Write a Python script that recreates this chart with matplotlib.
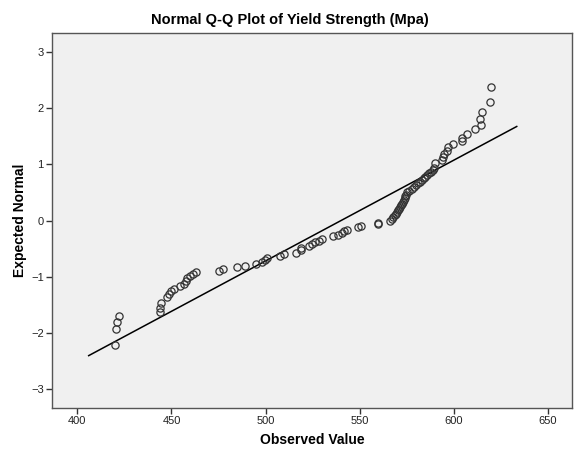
import matplotlib
matplotlib.use("Agg")
import matplotlib.pyplot as plt
import numpy as np

plt.rcParams['font.family'] = ['Liberation Sans', 'DejaVu Sans']

observed = [420.2, 420.7, 421.1, 422.1,
            443.9, 444.1, 444.5, 447.5, 448.5, 449.5, 451.5, 454.5, 456.5, 457.5,
            458.5, 460.0, 461.5, 463.0, 475.0, 477.5, 485.0, 489.0, 495.0, 498.0,
            499.5, 500.7, 507.6, 509.7, 516.1, 518.6, 518.8, 523.2, 524.5, 526.2,
            528.5, 529.8, 535.6, 538.5, 540.4, 541.8, 543.1, 549.3, 550.5, 559.6,
            559.8, 566.0, 567.0, 568.0, 569.0, 569.5, 570.0, 570.5, 571.0, 571.5,
            572.0, 572.5, 573.0, 573.5, 574.0, 574.3, 574.6, 575.0, 576.5, 578.0,
            579.0, 580.0, 581.0, 582.0, 583.0, 584.0, 585.0, 586.0, 587.0, 588.0,
            588.8, 589.5, 590.1, 593.6, 594.1, 595.0, 596.3, 596.8, 599.8, 604.4,
            604.4, 607.2, 611.5, 614.4, 614.0, 615.1, 619.3, 619.7]
expected = [-2.21, -1.93, -1.81, -1.69,
            -1.62, -1.55, -1.46, -1.36, -1.31, -1.26, -1.21, -1.17, -1.13, -1.08,
            -1.03, -0.99, -0.95, -0.92, -0.89, -0.86, -0.82, -0.80, -0.77, -0.74,
            -0.70, -0.66, -0.63, -0.59, -0.57, -0.53, -0.49, -0.46, -0.42, -0.38,
            -0.36, -0.32, -0.28, -0.26, -0.23, -0.19, -0.16, -0.12, -0.09, -0.06,
            -0.04, -0.01, 0.03, 0.06, 0.09, 0.12, 0.15, 0.18, 0.21, 0.24,
            0.27, 0.30, 0.33, 0.36, 0.40, 0.43, 0.46, 0.50, 0.53, 0.56,
            0.60, 0.63, 0.66, 0.69, 0.72, 0.75, 0.78, 0.81, 0.84, 0.87,
            0.90, 0.94, 1.02, 1.07, 1.12, 1.18, 1.24, 1.30, 1.35, 1.41,
            1.47, 1.54, 1.62, 1.70, 1.81, 1.93, 2.10, 2.37]

# Reference line (normal fit)
line_x = [406.0, 633.5]
line_y = [-2.40, 1.67]

x_ticks = [400, 450, 500, 550, 600, 650]
y_ticks = [-3, -2, -1, 0, 1, 2, 3]

fig = plt.figure(figsize=(5.79, 4.63), dpi=100)
ax = fig.add_axes([0.0898, 0.1188, 0.8982, 0.8099])
ax.set_facecolor('#f0f0f0')

ax.plot(line_x, line_y, color='black', lw=1.1, zorder=2)
ax.plot(observed, expected, linestyle='none', marker='o', markersize=5.2,
        markerfacecolor='none', markeredgecolor='#333333', markeredgewidth=0.9, zorder=3)

ax.set_xlim(386.5, 662.9)
ax.set_ylim(-3.33, 3.33)
ax.set_xticks(x_ticks)
ax.set_yticks(y_ticks)
ax.tick_params(axis='both', direction='out', length=4.5, width=1, color='#333333',
               labelsize=8, labelcolor='#222222', pad=1.5)
for s in ax.spines.values():
    s.set_color('#555555')
    s.set_linewidth(1.0)

fig.text(0.5, 1 - 20 / 463, 'Normal Q-Q Plot of Yield Strength (Mpa)', fontsize=10.5,
         fontweight='bold', ha='center', va='center')
ax.set_xlabel('Observed Value', fontsize=10, fontweight='bold')
ax.set_ylabel('Expected Normal', fontsize=10, fontweight='bold')
ax.xaxis.set_label_coords(0.5, (408 - 440) / 375, transform=ax.transAxes)
ax.yaxis.set_label_coords((20 - 52) / 520, 0.5, transform=ax.transAxes)
ax.xaxis.label.set_va('center')
ax.yaxis.label.set_va('center')

fig.savefig('out.png', dpi=100)
